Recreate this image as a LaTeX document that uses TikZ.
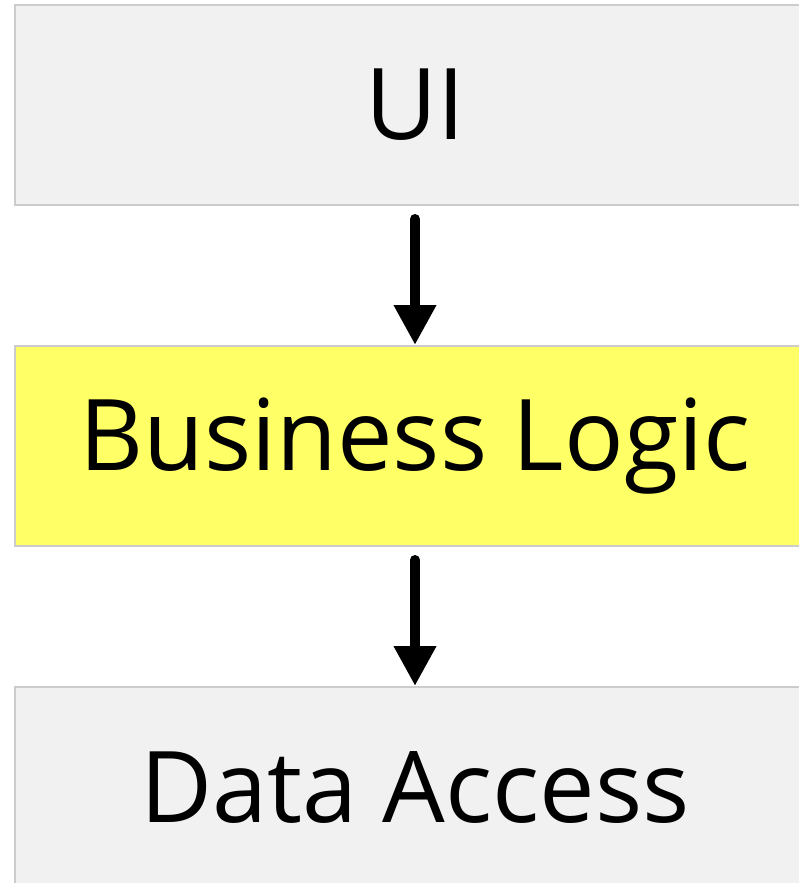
\documentclass[tikz,border=0pt]{standalone}
\usepackage{fontspec}
\setmainfont{Open Sans}
\usepackage{tikz}
\usetikzlibrary{positioning, arrows.meta}

\definecolor{layergray}{HTML}{F1F1F1}
\definecolor{layerline}{HTML}{CCCCCC}
\definecolor{layeryellow}{HTML}{FFFF66}

\tikzset{
  layer/.style={draw=layerline, line width=2pt, fill=layergray,
    minimum width=800pt, minimum height=200pt, inner sep=0pt,
    font=\fontsize{99}{110}\selectfont},
  uses/.style={line width=10pt, line cap=round,
    -{Triangle[width=40pt, length=40pt]}, shorten <=13pt}
}

\begin{document}
\begin{tikzpicture}[x=1pt, y=-1pt, node distance=139pt]
\useasboundingbox (0,0) rectangle (799,883);
\node[layer] (ui) at (415,105) {UI};
\node[layer, fill=layeryellow, below=of ui] (logic) {Business Logic};
\node[layer, below=of logic] (data) {Data Access};
\draw[uses] (ui) -- (logic);
\draw[uses] (logic) -- (data);
\end{tikzpicture}
\end{document}
